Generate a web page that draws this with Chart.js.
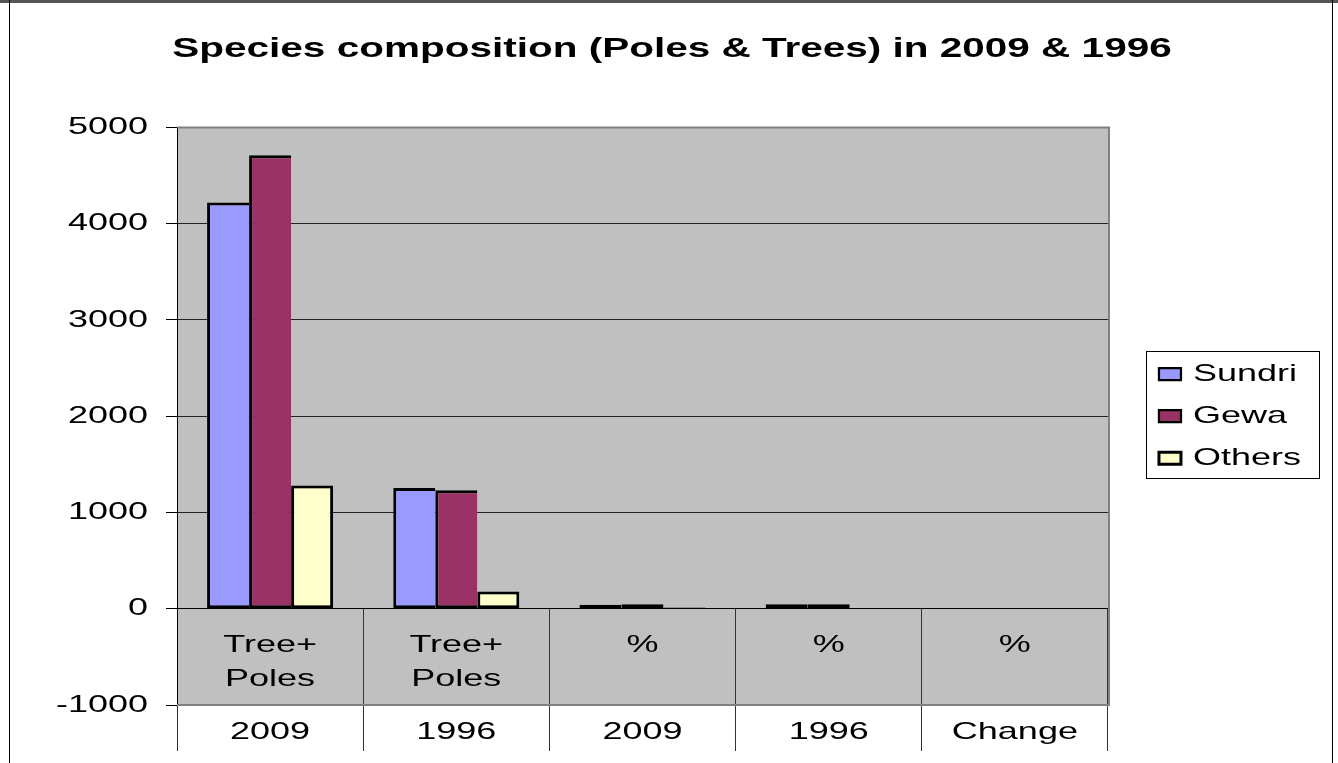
<!DOCTYPE html>
<html>
<head>
<meta charset="utf-8">
<title>Species composition</title>
<script src="https://cdn.jsdelivr.net/npm/chart.js@4.4.1/dist/chart.umd.min.js"></script>
<style>
  html, body { margin: 0; padding: 0; background: #fff; }
  #wrap { position: relative; width: 1338px; height: 763px; }
</style>
</head>
<body>
<div id="wrap"><canvas id="speciesChart"></canvas></div>
<script>
// categories (two label rows) and series
const groupLabels = [["Tree+", "Poles"], ["Tree+", "Poles"], "%", "%", "%"];
const periodLabels = ["2009", "1996", "2009", "1996", "Change"];
const sundri = [4220, 1255, 41.3, 47.1, null];
const gewa = [4710, 1230, 46.1, 46.2, null];
const others = [1280, 180, 12.5, null, null];
const yTicks = [-1000, 0, 1000, 2000, 3000, 4000, 5000];

const FONT = "'Liberation Sans', Arial, sans-serif";
const STRETCH = 1.5;

// wide Excel lettering: every label is drawn stretched horizontally
const wideText = {
    id: "wideText",
    beforeInit(chart) {
        const ctx = chart.ctx;
        const fill = ctx.fillText.bind(ctx);
        const measure = ctx.measureText.bind(ctx);
        ctx.fillText = (text, x, y) => {
            ctx.save();
            ctx.translate(x, y);
            ctx.scale(STRETCH, 1);
            fill(text, 0, 0);
            ctx.restore();
        };
        ctx.measureText = (text) => {
            const m = measure(text);
            return {
                width: m.width * STRETCH,
                actualBoundingBoxLeft: m.actualBoundingBoxLeft * STRETCH,
                actualBoundingBoxRight: m.actualBoundingBoxRight * STRETCH,
                actualBoundingBoxAscent: m.actualBoundingBoxAscent,
                actualBoundingBoxDescent: m.actualBoundingBoxDescent
            };
        };
    }
};

// grey plot area, its border, the legend box and the outer frame
const excelFrame = {
    id: "excelFrame",
    beforeDraw(chart) {
        const { ctx, chartArea: a } = chart;
        ctx.save();
        ctx.fillStyle = "#c0c0c0";
        ctx.fillRect(a.left, a.top, a.right - a.left, a.bottom - a.top);
        ctx.restore();
    },
    afterDraw(chart) {
        const { ctx, chartArea: a, width, height, legend } = chart;
        ctx.save();
        ctx.strokeStyle = "#808080";
        ctx.lineWidth = 2;
        ctx.beginPath();
        ctx.moveTo(a.left, a.top);
        ctx.lineTo(a.right + 1, a.top);
        ctx.lineTo(a.right + 1, a.bottom);
        ctx.lineTo(a.left, a.bottom);
        ctx.stroke();

        const hb = legend.legendHitBoxes;
        ctx.strokeStyle = "#000";
        ctx.lineWidth = 1;
        ctx.strokeRect(Math.round(hb[0].left - 13) + 0.5, Math.round(hb[0].top - 11) + 0.5, 173, 127);

        ctx.fillStyle = "#555";
        ctx.fillRect(0, 0, width, 3);
        ctx.fillStyle = "#000";
        ctx.fillRect(9, 0, 1, height);
        ctx.fillRect(1332, 0, 1, height);
        ctx.restore();
    }
};

const bar = (label, data, colour, right) => ({
    label,
    data,
    backgroundColor: colour,
    borderColor: "#000",
    borderWidth: { top: 3, left: 3, bottom: 3, right },
    borderSkipped: false,
    categoryPercentage: 0.677,
    barPercentage: 1
});

new Chart(document.getElementById("speciesChart"), {
    type: "bar",
    data: {
        labels: groupLabels,
        datasets: [
            bar("Sundri", sundri, "#9999ff", 0),
            bar("Gewa", gewa, "#993366", 0),
            bar("Others", others, "#ffffcc", 3)
        ]
    },
    plugins: [wideText, excelFrame],
    options: {
        responsive: true,
        maintainAspectRatio: false,
        animation: false,
        layout: { padding: { left: 33, right: 27, top: 0, bottom: 18 } },
        plugins: {
            title: {
                display: true,
                text: "Species composition (Poles & Trees) in 2009 & 1996",
                color: "#000",
                font: { family: FONT, size: 27, weight: "bold" },
                padding: { top: 33, bottom: 62 }
            },
            legend: {
                position: "right",
                align: "center",
                fullSize: false,
                labels: {
                    color: "#000",
                    font: { family: FONT, size: 24 },
                    boxWidth: 22,
                    boxHeight: 12,
                    padding: 18
                }
            },
            tooltip: { enabled: false }
        },
        scales: {
            x: {
                position: { y: 0 },
                offset: true,
                grid: { offset: true, drawOnChartArea: false, drawTicks: true, tickLength: 142, tickColor: "#333" },
                border: { display: true, color: "#000" },
                ticks: {
                    color: "#000",
                    font: { family: FONT, size: 24, lineHeight: 1.42 },
                    padding: -122,
                    maxRotation: 0,
                    autoSkip: false
                }
            },
            period: {
                type: "category",
                axis: "x",
                position: "bottom",
                labels: periodLabels,
                offset: true,
                grid: { display: false, drawTicks: false },
                border: { display: false },
                ticks: { color: "#000", font: { family: FONT, size: 24 }, padding: 13, maxRotation: 0, autoSkip: false },
                afterFit: (s) => { s.height = 40; }
            },
            y: {
                min: -1000,
                max: 5000,
                afterBuildTicks: (s) => { s.ticks = yTicks.map(v => ({ value: v })); },
                grid: { color: "#222", tickColor: "#000", tickLength: 11, drawTicks: true },
                border: { color: "#000", width: 1 },
                ticks: { color: "#000", font: { family: FONT, size: 24 }, padding: 18, callback: (v) => String(v) },
                afterFit: (s) => { s.width = 144; }
            },
            gap: {
                type: "linear",
                axis: "y",
                position: "right",
                grid: { display: false },
                border: { display: false },
                ticks: { display: false },
                afterFit: (s) => { s.width = 33; }
            }
        }
    }
});
</script>
</body>
</html>
